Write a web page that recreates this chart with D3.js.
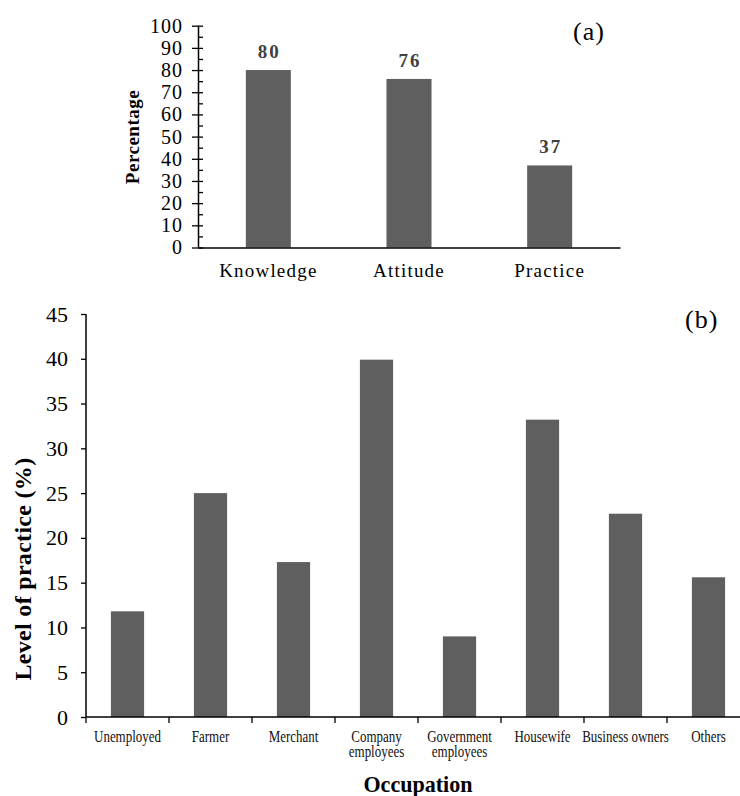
<!DOCTYPE html>
<html><head><meta charset="utf-8">
<script src="https://cdn.jsdelivr.net/npm/d3@7"></script>
<style>body{margin:0;background:#fff} svg{display:block}</style>
</head><body><svg id="c" width="740" height="796"></svg>
<script>
// ---- data ----
const kapCategories = ["Knowledge", "Attitude", "Practice"];
const kapValues = [80, 76, 37];
const kapTicks = [0, 10, 20, 30, 40, 50, 60, 70, 80, 90, 100];
const kapMinorTicks = [0, 5, 10, 15, 20, 25, 30, 35, 40, 45, 50, 55, 60, 65, 70, 75, 80, 85, 90, 95, 100];

const occCategories = ["Unemployed", "Farmer", "Merchant", "Company\nemployees", "Government\nemployees", "Housewife", "Business owners", "Others"];
const occValues = [11.8, 25.0, 17.3, 39.9, 9.0, 33.2, 22.7, 15.6];
const occTicks = [0, 5, 10, 15, 20, 25, 30, 35, 40, 45];

// ---- setup ----
const svg = d3.select("#c");
const SERIF = "'Liberation Serif','Times New Roman',serif";
const BAR = "#5f5f5f";

// ===== Panel (a) =====
const ax = d3.scaleBand().domain(kapCategories).range([198, 620]).paddingInner(0.68).paddingOuter(0.34);
const ay = d3.scaleLinear().domain([0, 100]).range([247.5, 25.7]);

const ga = svg.append("g");
ga.selectAll("rect.bar").data(kapCategories).join("rect")
  .attr("class", "bar")
  .attr("x", d => ax(d)).attr("width", ax.bandwidth())
  .attr("y", (d, i) => ay(kapValues[i])).attr("height", (d, i) => ay(0) - ay(kapValues[i]))
  .attr("fill", BAR);

ga.selectAll("text.val").data(kapCategories).join("text")
  .attr("class", "val")
  .attr("x", d => ax(d) + ax.bandwidth() / 2 + 1)
  .attr("y", (d, i) => ay(kapValues[i]) - 12)
  .attr("text-anchor", "middle")
  .attr("font-family", SERIF).attr("font-weight", "bold").attr("font-size", 19)
  .attr("letter-spacing", 2).attr("fill", "#404040")
  .text((d, i) => kapValues[i]);

// y axis (a): major ticks outward with labels, all ticks inward
const ayAxis = ga.append("g").attr("transform", `translate(${ax.range()[0]},0)`)
  .call(d3.axisLeft(ay).tickValues(kapTicks).tickSize(6).tickPadding(9).tickFormat(d3.format("d")));
ayAxis.select(".domain").remove();
ayAxis.selectAll("text").attr("font-family", SERIF).attr("font-size", 20).attr("letter-spacing", 1).attr("fill", "#000");
ayAxis.selectAll("line").attr("stroke", "#000").attr("stroke-width", 1.3);
const ayMinor = ga.append("g").attr("transform", `translate(${ax.range()[0]},0)`)
  .call(d3.axisRight(ay).tickValues(kapMinorTicks).tickSize(5).tickFormat(""));
ayMinor.selectAll("line").attr("stroke", "#000").attr("stroke-width", 1.3);
ayMinor.select(".domain").attr("stroke", "#000").attr("stroke-width", 1.5).attr("d", `M0.5,${ay(100)}V${ay(0)}`);

// x axis (a)
const axAxis = ga.append("g").attr("transform", `translate(0,${ay(0)})`)
  .call(d3.axisBottom(ax).tickSize(0).tickPadding(29));
axAxis.select(".domain").attr("stroke", "#000").attr("stroke-width", 1.5);
axAxis.selectAll("text").attr("font-family", SERIF).attr("font-size", 19).attr("letter-spacing", 1.2).attr("fill", "#000").attr("dy", 0);

ga.append("text")
  .attr("transform", `translate(139,137) rotate(-90)`)
  .attr("text-anchor", "middle")
  .attr("font-family", SERIF).attr("font-weight", "bold").attr("font-size", 19).attr("letter-spacing", 0.5)
  .text("Percentage");

ga.append("text").attr("x", 573).attr("y", 40)
  .attr("font-family", SERIF).attr("font-size", 26).attr("letter-spacing", 1)
  .text("(a)");

// ===== Panel (b) =====
const bx = d3.scaleBand().domain(occCategories).range([86, 750]).paddingInner(0.6).paddingOuter(0.3);
const by = d3.scaleLinear().domain([0, 45]).range([717, 314]);

const gb = svg.append("g");
gb.selectAll("rect.bar").data(occCategories).join("rect")
  .attr("class", "bar")
  .attr("x", d => bx(d)).attr("width", bx.bandwidth())
  .attr("y", (d, i) => by(occValues[i])).attr("height", (d, i) => by(0) - by(occValues[i]))
  .attr("fill", BAR);

const byAxis = gb.append("g").attr("transform", `translate(86,0)`)
  .call(d3.axisLeft(by).tickValues(occTicks).tickSize(5).tickPadding(13));
byAxis.select(".domain").attr("stroke", "#000").attr("stroke-width", 1.5).attr("d", `M0,${by(45)}V${by(0)}`);
byAxis.selectAll("line").attr("stroke", "#000").attr("stroke-width", 1.3);
byAxis.selectAll("text").attr("font-family", SERIF).attr("font-size", 22).attr("fill", "#000");

// x axis (b): line with ticks at band boundaries
const step = bx.step();
const boundaries = occCategories.map(d => bx(d) - bx.paddingInner() * step / 2);
const bxAxis = gb.append("g").attr("transform", `translate(0,${by(0)})`);
bxAxis.append("line").attr("x1", 86).attr("x2", 750).attr("y1", 0).attr("y2", 0)
  .attr("stroke", "#000").attr("stroke-width", 1.5);
bxAxis.selectAll("line.tk").data(boundaries).join("line").attr("class", "tk")
  .attr("x1", d => d).attr("x2", d => d).attr("y1", 0).attr("y2", 6)
  .attr("stroke", "#000").attr("stroke-width", 1.3);

const lab = gb.selectAll("g.lab").data(occCategories).join("g").attr("class", "lab")
  .attr("transform", d => `translate(${bx(d) + bx.bandwidth() / 2},741.5) scale(0.81,1)`);
lab.each(function (d) {
  const lines = d.split("\n");
  d3.select(this).selectAll("text").data(lines).join("text")
    .attr("x", 0).attr("y", (l, i) => i * 16)
    .attr("text-anchor", "middle")
    .attr("font-family", SERIF).attr("font-size", 16).attr("fill", "#111")
    .text(l => l);
});

gb.append("text")
  .attr("transform", `translate(31,569) rotate(-90)`)
  .attr("text-anchor", "middle")
  .attr("font-family", SERIF).attr("font-weight", "bold").attr("font-size", 24).attr("letter-spacing", 0.3)
  .text("Level of practice (%)");

gb.append("text")
  .attr("transform", `translate(${(bx.range()[0] + bx.range()[1]) / 2},792) scale(0.92,1)`)
  .attr("text-anchor", "middle")
  .attr("font-family", SERIF).attr("font-weight", "bold").attr("font-size", 24)
  .text("Occupation");

gb.append("text").attr("x", 685).attr("y", 328)
  .attr("font-family", SERIF).attr("font-size", 26).attr("letter-spacing", 1)
  .text("(b)");
</script>
</body></html>
